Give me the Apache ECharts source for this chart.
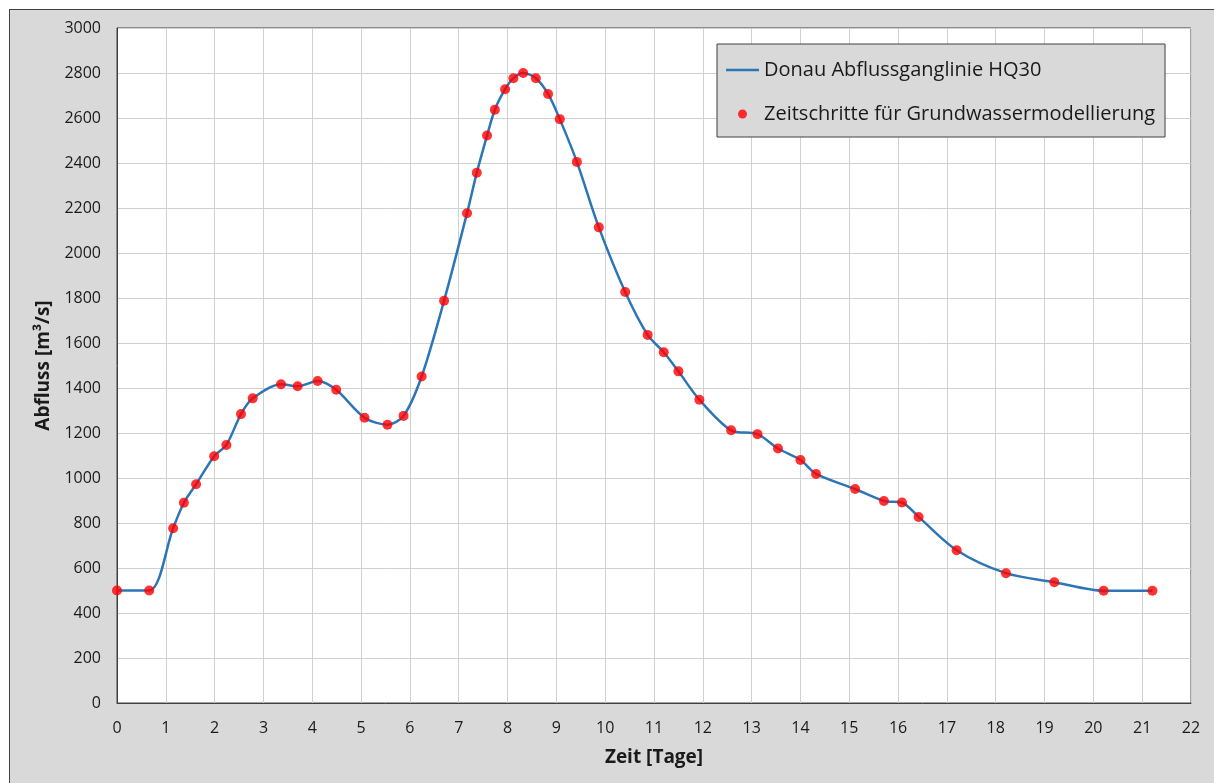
<!DOCTYPE html>
<html>
<head>
<meta charset="utf-8">
<script src="https://cdn.jsdelivr.net/npm/echarts@6/dist/echarts.min.js"></script>
<style>
  html, body { margin: 0; padding: 0; background: #fff; overflow: hidden; }
  #chart {
    position: absolute; left: 9px; top: 9px;
    width: 1205px; height: 774px;
    border-left: 1px solid #404040; border-top: 1px solid #404040;
  }
</style>
</head>
<body>
<div id="chart"></div>
<script>
// Zeit [Tage] und Abfluss [m³/s] der Zeitschritte
const days = [0, 0.66, 1.15, 1.37, 1.62, 1.99, 2.24, 2.54, 2.78, 3.36, 3.70, 4.11, 4.49, 5.07, 5.54, 5.87,
  6.24, 6.70, 7.17, 7.37, 7.58, 7.74, 7.95, 8.12, 8.32, 8.58, 8.83, 9.07, 9.42, 9.87, 10.41, 10.87,
  11.20, 11.50, 11.93, 12.58, 13.12, 13.54, 14.00, 14.32, 15.12, 15.71, 16.08, 16.42, 17.20, 18.21,
  19.20, 20.21, 21.21]
const flow = [500, 500, 777, 890, 972, 1097, 1147, 1284, 1354, 1417, 1408, 1431, 1392, 1268, 1237, 1276,
  1451, 1788, 2177, 2357, 2522, 2637, 2728, 2777, 2800, 2777, 2707, 2595, 2405, 2114, 1827, 1636,
  1559, 1474, 1348, 1212, 1195, 1131, 1080, 1018, 951, 898, 891, 827, 679, 577,
  537, 499, 499]

const seriesNames = ['Donau Abflussganglinie HQ30', 'Zeitschritte für Grundwassermodellierung']
const xTitle = 'Zeit [Tage]'
const yTitle = 'Abfluss [m³/s]'

const points = days.map((d, i) => [d, flow[i]])

const chart = echarts.init(document.getElementById('chart'))
const font = '"Open Sans", "Noto Sans", sans-serif'

chart.setOption({
  backgroundColor: '#d9d9d9',
  animation: false,
  textStyle: { fontFamily: font },
  grid: {
    left: 107, top: 18, width: 1074, height: 675,
    show: true, backgroundColor: '#fff', borderColor: '#404040', borderWidth: 1
  },
  legend: {
    orient: 'vertical',
    left: 707, top: 34,
    backgroundColor: '#d9d9d9',
    borderColor: '#404040', borderWidth: 1,
    padding: [16, 10, 13, 9],
    itemWidth: 33, itemHeight: 9, itemGap: 24,
    textStyle: { fontFamily: font, fontSize: 20, color: '#1a1a1a', lineHeight: 20 },
    data: [
      // plain line icon without marker
      { name: seriesNames[0], icon: 'path://M0,0 L33,0 L33,2.5 L0,2.5 Z' },
      { name: seriesNames[1] }
    ]
  },
  xAxis: {
    type: 'value', min: 0, max: 22, interval: 1,
    name: xTitle, nameLocation: 'middle', nameGap: 45,
    nameTextStyle: { fontFamily: font, fontSize: 19, fontWeight: 'bold', color: '#1a1a1a' },
    axisLine: { lineStyle: { color: '#404040' } },
    axisTick: { show: false },
    axisLabel: { fontFamily: font, fontSize: 16, color: '#1a1a1a', margin: 17 },
    splitLine: { lineStyle: { color: '#d0d0d0' } }
  },
  yAxis: {
    type: 'value', min: 0, max: 3000, interval: 200,
    name: yTitle, nameLocation: 'middle', nameGap: 55,
    nameTextStyle: { fontFamily: font, fontSize: 19, fontWeight: 'bold', color: '#1a1a1a' },
    axisLine: { show: true, lineStyle: { color: '#404040' } },
    axisTick: { show: false },
    axisLabel: { fontFamily: font, fontSize: 16, color: '#1a1a1a', margin: 16, formatter: v => String(v) },
    splitLine: { lineStyle: { color: '#d0d0d0' } }
  },
  series: [
    {
      name: seriesNames[0],
      type: 'line',
      data: points,
      smooth: 0.3,
      symbol: 'none',
      lineStyle: { color: '#2e75b6', width: 2.5 },
      itemStyle: { color: '#2e75b6' },
      z: 2
    },
    {
      name: seriesNames[1],
      type: 'scatter',
      data: points,
      symbolSize: 10,
      itemStyle: { color: '#ff0000' },
      z: 3
    }
  ]
})
</script>
</body>
</html>
